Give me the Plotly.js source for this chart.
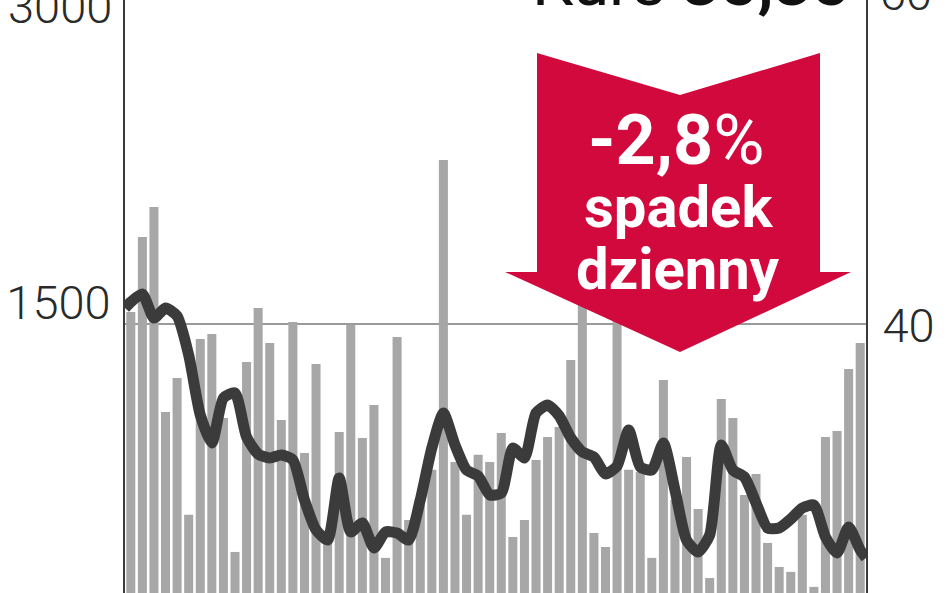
<!DOCTYPE html>
<html>
<head>
<meta charset="utf-8">
<script src="https://cdn.plot.ly/plotly-3.0.1.min.js"></script>
<style>html,body{margin:0;padding:0;background:#fff;}#chart{width:948px;height:593px;}</style>
</head>
<body>
<div id="chart"></div>
<script>
// Session index (one bar per trading day)
const days = Array.from({length: 64}, (_, i) => i + 1);

// Daily turnover (left axis)
const volume = [1561,1941,2093,1054,1227,533,1424,1450,1024,345,
                1308,1581,1404,1014,1510,847,1298,406,953,1495,
                923,1090,315,1434,507,583,761,2331,801,533,
                837,801,948,421,507,811,928,978,1318,1622,
                441,370,1546,761,750,315,1217,608,826,563,
                213,1120,1024,634,740,391,269,244,533,168,
                928,958,1272,1404];

// Share price (right axis); the line runs from the left edge to the right edge
const priceDays = [0.5].concat(days, [64.5]);
const price = [41.09,
               41.46,41.95,40.48,41.09,40.60,38.21,34.53,32.81,35.57,35.88,
               33.18,32.13,31.89,32.07,31.77,29.31,27.47,26.85,30.66,27.35,
               27.90,26.36,27.35,27.28,26.85,29.31,32.50,34.65,32.69,31.15,
               30.78,29.62,29.74,32.50,31.89,34.65,35.14,34.47,33.12,32.26,
               31.95,30.91,31.40,33.61,31.34,31.15,32.81,29.92,26.85,26.12,
               27.16,32.69,31.15,30.72,29.13,27.59,27.59,28.14,28.82,29.00,
               27.04,26.06,27.65,26.24,
               25.75];

const leftTicks = [1500];
const leftTickText = ['1500'];
const rightTicks = [40];
const rightTickText = ['40'];
const leftTopLabel = '3000';
const rightTopLabel = '60';

const kursText = 'Kurs <b>35,35</b>';
const changeText = '<b>-2,8</b>%';
const changeLine2 = 'spadek';
const changeLine3 = 'dzienny';

// page pixel -> paper helpers (plot area spans x 125..866, y 0..593)
const W = 948, H = 593, L = 125, R = 866;
const px = x => (x - L) / (R - L);
const py = y => 1 - y / H;

const arrowPts = [[537,53],[680,95],[820,53],[820,272],[851,272],[680,352],[505,272],[537,272]];
const arrowPath = 'M' + arrowPts.map(p => px(p[0]).toFixed(5) + ',' + py(p[1]).toFixed(5)).join(' L') + ' Z';

const fam = 'Roboto, "DejaVu Sans", sans-serif';
const tickFont = {family: fam, size: 47, color: '#2a2a2a', weight: 300};

const traces = [
  {
    type: 'bar', x: days, y: volume, yaxis: 'y',
    marker: {color: '#a7a7a7', line: {width: 0}},
    hoverinfo: 'skip'
  },
  {
    type: 'scatter', mode: 'lines', x: priceDays, y: price, yaxis: 'y2',
    line: {color: '#3b3b3b', width: 11, shape: 'spline', smoothing: 0.6},
    hoverinfo: 'skip', cliponaxis: true
  }
];

const layout = {
  width: W, height: H,
  margin: {l: L, r: W - R, t: 0, b: 0, pad: 0},
  paper_bgcolor: '#ffffff', plot_bgcolor: '#ffffff',
  showlegend: false,
  bargap: 0.22,
  xaxis: {range: [0.5, 64.5], visible: false, fixedrange: true},
  yaxis: {
    range: [137, 3142], tickvals: leftTicks, ticktext: leftTickText,
    ticks: '', showgrid: false, zeroline: false,
    showline: true, linecolor: '#3a3a3a', linewidth: 2,
    ticklabelstandoff: 3, ticklabelshift: -21,
    tickfont: tickFont
  },
  yaxis2: {
    range: [23.6, 60], tickvals: rightTicks, ticktext: rightTickText,
    overlaying: 'y', side: 'right',
    ticks: '', showgrid: false, zeroline: false,
    showline: true, linecolor: '#3a3a3a', linewidth: 2,
    ticklabelstandoff: 5,
    tickfont: tickFont
  },
  shapes: [
    {type: 'line', xref: 'paper', yref: 'y', x0: 0, x1: 1, y0: 1500, y1: 1500,
     line: {color: '#9a9a9a', width: 2}, layer: 'below'},
    {type: 'path', xref: 'paper', yref: 'paper', path: arrowPath,
     fillcolor: '#d2093d', line: {width: 0}, layer: 'above'}
  ],
  annotations: [
    {xref: 'paper', yref: 'paper', x: px(114), y: py(6), xanchor: 'right', yanchor: 'middle',
     text: leftTopLabel, showarrow: false, font: tickFont},
    {xref: 'paper', yref: 'paper', x: px(878), y: py(-6), xanchor: 'left', yanchor: 'middle',
     text: rightTopLabel, showarrow: false, font: tickFont},
    {xref: 'paper', yref: 'paper', x: px(852), y: py(23), xanchor: 'right', yanchor: 'bottom',
     text: kursText, showarrow: false,
     font: {family: fam, size: 66, color: '#111'}},
    {xref: 'paper', yref: 'paper', x: px(676), y: py(140), xanchor: 'center', yanchor: 'middle',
     text: changeText, showarrow: false,
     font: {family: fam, size: 70, color: '#ffffff'}},
    {xref: 'paper', yref: 'paper', x: px(678), y: py(207), xanchor: 'center', yanchor: 'middle',
     text: '<b>' + changeLine2 + '</b>', showarrow: false,
     font: {family: fam, size: 58, color: '#ffffff'}},
    {xref: 'paper', yref: 'paper', x: px(678), y: py(269), xanchor: 'center', yanchor: 'middle',
     text: '<b>' + changeLine3 + '</b>', showarrow: false,
     font: {family: fam, size: 58, color: '#ffffff'}}
  ]
};

Plotly.newPlot('chart', traces, layout, {staticPlot: true, displayModeBar: false});
</script>
</body>
</html>
